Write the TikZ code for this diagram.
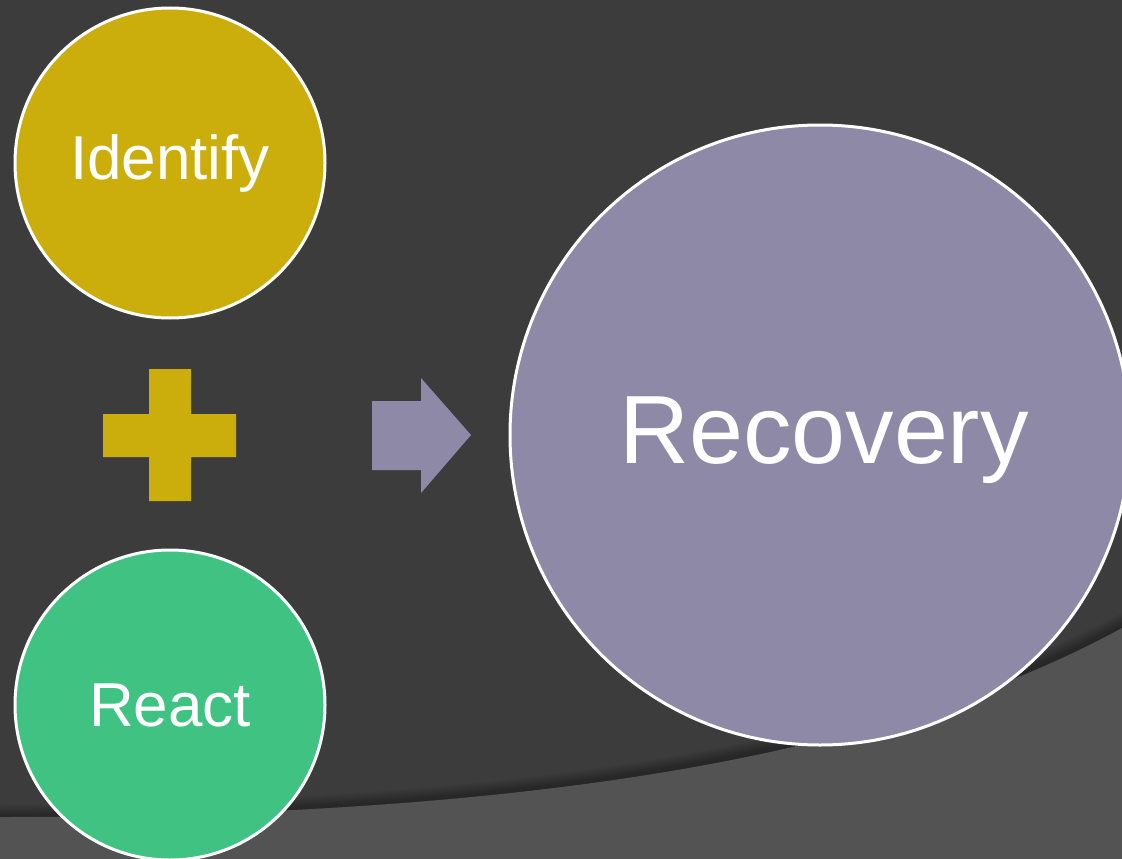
\documentclass[tikz,border=0pt]{standalone}
\usepackage{fontspec}
\setmainfont{Liberation Sans}
\definecolor{bgdark}{HTML}{3C3C3C}
\definecolor{bglight}{HTML}{535353}
\definecolor{gold}{HTML}{CBAE0B}
\definecolor{leaf}{HTML}{40C382}
\definecolor{lilac}{HTML}{8E89A6}
\tikzset{
  bubble/.style={circle, draw=white, line width=3pt, text=white, inner sep=0pt},
  label text/.style={text=white, inner sep=0pt},
}
\begin{document}
\begin{tikzpicture}[x=1pt,y=-1pt]
\fill[bgdark] (0,0) rectangle (1122,859);
\useasboundingbox (0,0) rectangle (1122,859);
% soft shadow above swoosh edge
\foreach \k in {1,...,12}{
  \draw[black, opacity=0.025, line width=2.2*\k pt] (-20,818) .. controls (520,817) and (880,760) .. (1140,618);
}
\fill[bglight] (0,859) -- (0,817) .. controls (520,817) and (880,760) .. (1122,628) -- (1122,859) -- cycle;
\node[bubble, fill=gold, minimum size=310pt, font=\fontsize{62}{70}\selectfont] (identify) at (170,163) {Identify};
\node[bubble, fill=leaf, minimum size=310pt, font=\fontsize{62}{70}\selectfont] (react) at (170,705) {React};
\node[bubble, fill=lilac, minimum size=620pt] (recovery) at (820,435) {};
\node[label text, font=\fontsize{97}{110}\selectfont] (recoverytext) at (824,440) {Recovery};
% plus sign
\fill[gold] (149,369) -- (191,369) -- (191,414) -- (236,414) -- (236,457) -- (191,457) -- (191,501) -- (149,501) -- (149,457) -- (103,457) -- (103,414) -- (149,414) -- cycle;
% arrow
\fill[lilac] (372,401) -- (421,401) -- (421,378) -- (471,435) -- (421,493) -- (421,470) -- (372,470) -- cycle;
\end{tikzpicture}
\end{document}
